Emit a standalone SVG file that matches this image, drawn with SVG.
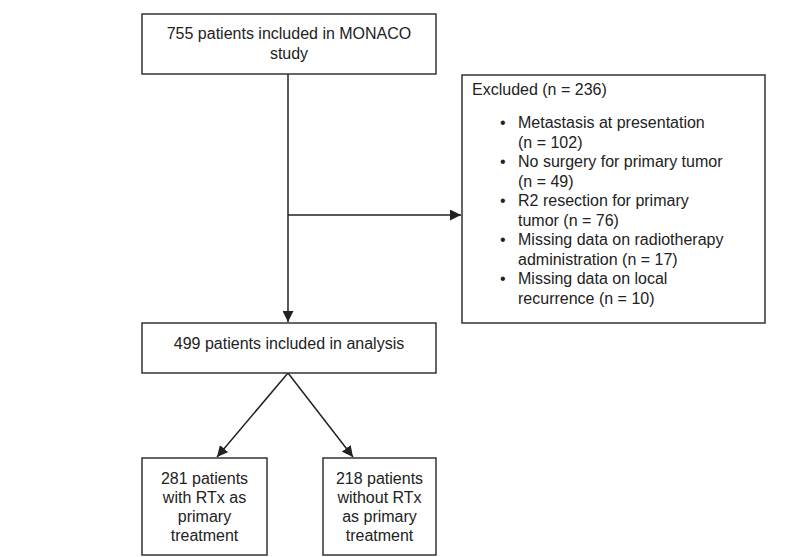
<svg xmlns="http://www.w3.org/2000/svg" width="806" height="557" viewBox="0 0 806 557">
<style>
.box{fill:#fff;stroke:#333;stroke-width:1.5}
.t{font-family:"Liberation Sans",Arial,sans-serif;font-size:16px;fill:#222}
.c{text-anchor:middle}
.ln{fill:none;stroke:#222;stroke-width:1.5}
</style>
<defs>
<marker id="ah" viewBox="0 0 10 10" refX="10" refY="5" markerWidth="11" markerHeight="11" markerUnits="userSpaceOnUse" orient="auto">
<path d="M0,0 L10,5 L0,10 z" fill="#222"/>
</marker>
</defs>
<rect width="806" height="557" fill="#fff"/>
<g id="connectors">
<line class="ln" x1="288" y1="74" x2="288" y2="322" marker-end="url(#ah)"/>
<line class="ln" x1="288" y1="215" x2="461" y2="215" marker-end="url(#ah)"/>
<line class="ln" x1="288" y1="373" x2="217" y2="457" marker-end="url(#ah)"/>
<line class="ln" x1="288" y1="373" x2="353" y2="457" marker-end="url(#ah)"/>
</g>
<g id="n_monaco">
<rect class="box" x="142" y="14" width="294" height="60"/>
<text class="t c" x="289" y="39">755 patients included in MONACO</text>
<text class="t c" x="289" y="58.5">study</text>
</g>
<g id="n_excluded">
<rect class="box" x="462" y="75" width="303" height="248"/>
<text class="t" x="472" y="95">Excluded (n = 236)</text>
<g class="t">
<text x="500" y="128">•</text><text x="518" y="128">Metastasis at presentation</text>
<text x="518" y="147.5">(n = 102)</text>
<text x="500" y="167">•</text><text x="518" y="167">No surgery for primary tumor</text>
<text x="518" y="186.5">(n = 49)</text>
<text x="500" y="206">•</text><text x="518" y="206">R2 resection for primary</text>
<text x="518" y="225.5">tumor (n = 76)</text>
<text x="500" y="245">•</text><text x="518" y="245">Missing data on radiotherapy</text>
<text x="518" y="264.5">administration (n = 17)</text>
<text x="500" y="284">•</text><text x="518" y="284">Missing data on local</text>
<text x="518" y="303.5">recurrence (n = 10)</text>
</g>
</g>
<g id="n_analysis">
<rect class="box" x="142" y="323" width="294" height="50"/>
<text class="t c" x="289" y="349">499 patients included in analysis</text>
</g>
<g id="n_rtx">
<rect class="box" x="142" y="458" width="125" height="97"/>
<text class="t c" x="204.5" y="484">281 patients</text>
<text class="t c" x="204.5" y="503">with RTx as</text>
<text class="t c" x="204.5" y="522">primary</text>
<text class="t c" x="204.5" y="541">treatment</text>
</g>
<g id="n_nortx">
<rect class="box" x="323" y="458" width="113" height="97"/>
<text class="t c" x="379.5" y="484">218 patients</text>
<text class="t c" x="379.5" y="503">without RTx</text>
<text class="t c" x="379.5" y="522">as primary</text>
<text class="t c" x="379.5" y="541">treatment</text>
</g>
</svg>
